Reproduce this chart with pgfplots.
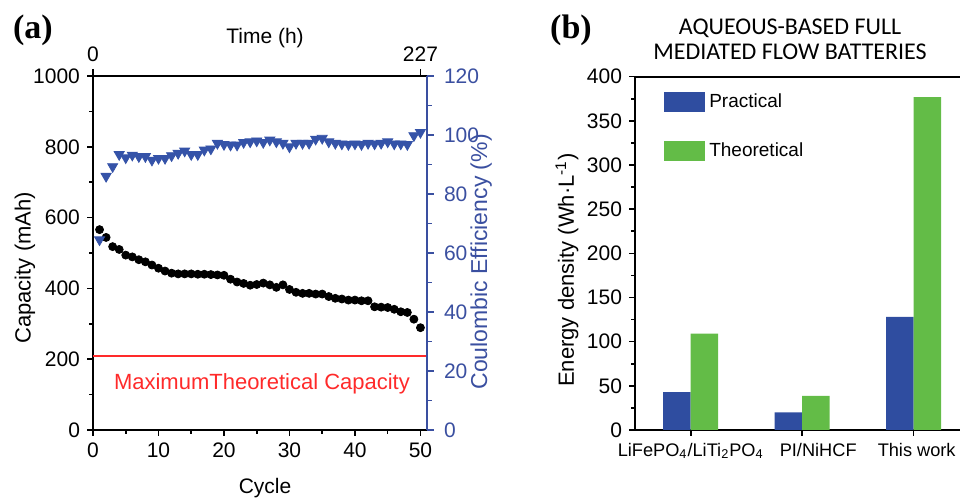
\documentclass[border=0pt]{standalone}
\usepackage{graphicx}
\usepackage{pgfplots}
\usepackage{pgfplotstable}
\pgfplotsset{compat=1.18}
\usepackage{fontspec}
\setmainfont{Liberation Sans}
\newfontfamily\carlito{Carlito}
\newfontfamily\serifb{Liberation Serif}
\definecolor{cblue}{HTML}{2F4DA0}
\definecolor{cgreen}{HTML}{63BC47}
\definecolor{tblue}{HTML}{3553A8}
\definecolor{axblue}{HTML}{3A4FA0}
\definecolor{cred}{HTML}{FF2A2A}
\pgfplotstableread{
c cap
1 566
2 544
3 518
4 510
5 494
6 489
7 481
8 475
9 466
10 457
11 449
12 443
13 441
14 441
15 441
16 440
17 440
18 439
19 438
20 437
21 426
22 418
23 414
24 409
25 411
26 415
27 410
28 403
29 410
30 397
31 389
32 386
33 386
34 384
35 384
36 377
37 372
38 370
39 367
40 367
41 365
42 365
43 348
44 347
45 346
46 341
47 334
48 332
49 313
50 289
}\capdata
\pgfplotstableread{
c ce
1 64.5
2 86
3 89.3
4 93.4
5 92.3
6 93.2
7 92.7
8 92.7
9 91.5
10 92.1
11 92.1
12 93
13 93.8
14 94.6
15 93.4
16 93.4
17 94.9
18 95.3
19 97.2
20 96.8
21 96.6
22 96.6
23 97.5
24 97.7
25 98
26 97.5
27 98.3
28 97.7
29 97.2
30 96
31 97.2
32 97.2
33 97.2
34 98.6
35 98.9
36 97.7
37 97.2
38 97
39 96.8
40 97
41 96.8
42 97.2
43 97
44 97.2
45 97.7
46 97
47 97
48 96.8
49 99.8
50 100.9
}\cedata
\begin{document}
\begin{tikzpicture}
\path[use as bounding box] (0,0) rectangle (480pt,249pt);
% panel (a) primary
\begin{axis}[at={(46.5pt,34pt)}, anchor=south west, scale only axis,
  width=167pt, height=177pt, xmin=0, xmax=51, ymin=0, ymax=1000,
  axis x line*=bottom, axis y line*=left,
  xtick={0,10,...,50}, ytick={0,200,...,1000},
  minor x tick num=1, minor y tick num=1,
  tick align=outside, major tick length=3pt, minor tick length=2pt,
  axis line style={line width=1pt},
  every tick/.style={black, line width=0.8pt},
  tick label style={font=\fontsize{10.5}{12}\selectfont},
  /pgf/number format/assume math mode=true,
  /pgf/number format/1000 sep={},
  xlabel={Cycle}, ylabel={Capacity (mAh)},
  xlabel style={font=\fontsize{10.5}{12}\selectfont, at={(axis description cs:0.515,-0.164)}, anchor=center},
  ylabel style={font=\fontsize{11}{12}\selectfont, at={(axis description cs:-0.204,0.458)}, anchor=center},
  clip=false]
\addplot[cred, line width=1pt] coordinates {(0,210) (51,210)};
\addplot[only marks, mark=*, mark size=2pt, mark options={fill=black, draw=black}] table[x=c, y=cap] {\capdata};
\node[text=cred, font=\fontsize{11}{13}\selectfont] at (axis cs:25.8,131) {MaximumTheoretical Capacity};
\end{axis}
% panel (a) secondary
\begin{axis}[at={(46.5pt,34pt)}, anchor=south west, scale only axis,
  width=167pt, height=177pt, xmin=0, xmax=51, ymin=0, ymax=120,
  axis x line*=top, axis y line*=right,
  xtick={0,50}, xticklabels={0,227}, ytick={0,20,...,120}, minor y tick num=1,
  tick align=outside, major tick length=3.5pt, minor tick length=2.5pt,
  axis line style={line width=1pt},
  x axis line style={black}, y axis line style={axblue},
  every tick/.style={line width=0.8pt},
  x tick style={black}, y tick style={axblue},
  x tick label style={font=\fontsize{10.5}{12}\selectfont},
  y tick label style={font=\fontsize{10.5}{12}\selectfont, text=axblue, xshift=1.5pt},
  /pgf/number format/assume math mode=true,
  xlabel={Time (h)}, ylabel={Coulombic Efficiency (\%)},
  xlabel style={font=\fontsize{10.5}{12}\selectfont, at={(axis description cs:0.515,1.107)}, anchor=center},
  ylabel style={font=\fontsize{11.5}{12}\selectfont, text=axblue, at={(axis description cs:1.162,0.475)}, anchor=center},
  clip=false]
\addplot[only marks, mark=triangle*, mark size=2.9pt, mark options={rotate=180, fill=tblue, draw=tblue}] table[x=c, y=ce] {\cedata};
\end{axis}
% panel (b)
\begin{axis}[at={(317.5pt,34pt)}, anchor=south west, scale only axis,
  width=170pt, height=176.65pt, xmin=-0.5, xmax=2.55, ymin=0, ymax=400,
  ytick={0,50,...,400}, minor y tick num=1,
  xtick={0,1,2},
  xticklabels={LiFePO\textsubscript{4}/LiTi\textsubscript{2}PO\textsubscript{4}, \hspace{16pt}PI/NiHCF, \hspace{3pt}This work},
  xtick pos=bottom, ytick pos=left,
  tick align=outside, major tick length=3pt, minor tick length=2pt,
  axis line style={line width=1pt},
  every tick/.style={black, line width=0.8pt},
  x tick label style={font=\fontsize{9.1}{11}\selectfont},
  y tick label style={font=\fontsize{10.5}{12}\selectfont},
  /pgf/number format/assume math mode=true,
  ylabel={Energy density (Wh·L\textsuperscript{-1})},
  ylabel style={font=\fontsize{11}{13}\selectfont, at={(axis description cs:-0.2,0.453)}, anchor=center},
  title={AQUEOUS-BASED FULL\\MEDIATED FLOW BATTERIES},
  title style={font=\carlito\fontsize{12}{12.5}\selectfont, align=center, at={(axis description cs:0.456,1.072)}, anchor=center},
  legend style={at={(axis description cs:0.085,0.965)}, anchor=north west, draw=none, fill=none, inner sep=0pt, row sep=12pt, font=\fontsize{9.5}{11}\selectfont},
  legend cell align=left,
  legend image code/.code={\fill[#1] (0pt,-5pt) rectangle (20.5pt,5pt);},
  clip=false]
\addplot[ybar, bar width=13.75pt, bar shift=-6.875pt, fill=cblue, draw=none] coordinates {(0,43) (1,20) (2,128)};
\addplot[ybar, bar width=13.75pt, bar shift=6.875pt, fill=cgreen, draw=none] coordinates {(0,109) (1,38.5) (2,377)};
\legend{Practical, Theoretical}
\end{axis}
\node[font=\serifb\bfseries\fontsize{17}{19}\selectfont] at (16.5pt,234pt) {(a)};
\node[font=\serifb\bfseries\fontsize{17}{19}\selectfont] at (285.5pt,234pt) {(b)};
\end{tikzpicture}
\end{document}
